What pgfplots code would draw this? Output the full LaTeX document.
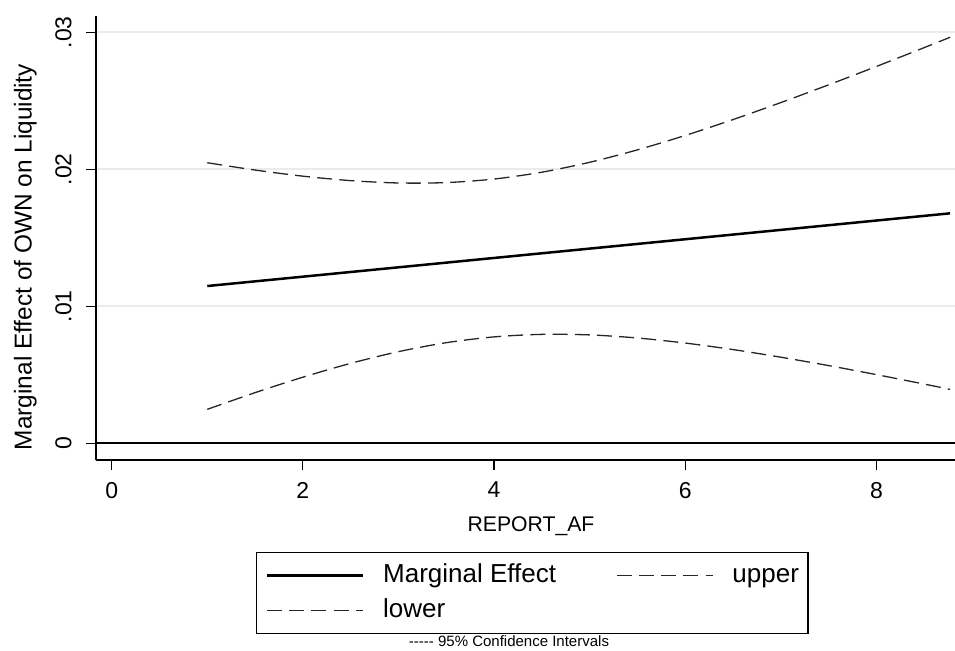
\documentclass[border=0pt]{standalone}
\usepackage{fontspec}
\setmainfont{Liberation Sans}
\usepackage{pgfplots}
\pgfplotsset{compat=1.18}
\begin{document}
\begin{tikzpicture}
\useasboundingbox (-48pt,-95pt) rectangle (429.5pt,230pt);
\begin{axis}[
 name=ax, at={(0,0)}, anchor=south west,
 scale only axis, width=429.5pt, height=222pt,
 xmin=-0.164, xmax=8.821, ymin=-0.001219, ymax=0.03119,
 axis x line*=bottom, axis y line*=left,
 axis line style={-, line width=0.6pt, black},
 tick align=outside, major tick length=5pt,
 tick style={line width=0.6pt, black},
 xtick={0,2,4,6,8}, xticklabels={0,2,4,6,8},
 ytick={0,0.01,0.02,0.03}, yticklabels={0,.01,.02,.03},
 scaled y ticks=false, scaled x ticks=false,
 /pgf/number format/assume math mode=true,
 ymajorgrids, major grid style={line width=1pt, color=black!8},
 xticklabel style={font=\fontsize{11.5}{13}\selectfont, inner sep=0pt, anchor=north},
 yticklabel style={font=\fontsize{11.5}{13}\selectfont, inner sep=0pt, rotate=90, anchor=south},
 xticklabel shift=5.85pt, yticklabel shift=7pt,
 xlabel={REPORT\_AF},
 xlabel style={font=\fontsize{10.6}{12}\selectfont, at={(axis description cs:0.5064,-0.1599)}, anchor=base},
 ylabel={Marginal Effect of OWN on Liquidity},
 ylabel style={font=\fontsize{12.2}{14}\selectfont, at={(axis description cs:-0.0749,0.4572)}, anchor=base},
 legend columns=2,
 legend cell align=left,
 legend style={at={(axis description cs:0.1863,-0.2072)}, anchor=north west, draw=black, line width=0.7pt, fill=white,
   inner xsep=4.5pt, inner ysep=5.4pt, font=\fontsize{13}{15}\selectfont,
   nodes={inner sep=0pt, text height=9.5pt, text depth=2.7pt, anchor=base west},
   column sep=9.5pt, row sep=5.3pt, /tikz/every even column/.append style={column sep=30pt}},
 legend image code/.code={\path (0pt,0pt); \draw[#1] (0pt,3.4pt) -- (48pt,3.4pt);},
]
\addplot[black, line width=1pt, forget plot] coordinates {(-0.164,0) (8.821,0)};
\addplot[black, line width=1.25pt] coordinates {(1,0.01148) (8.77,0.016787)};
\addlegendentry{Marginal Effect}
\addplot[black!85, line width=0.65pt, dash pattern=on 7.5pt off 3.6pt, smooth] coordinates {
(1,0.02048) (1.5,0.019946) (2,0.019500) (2.5,0.019173) (3,0.019002) (3.5,0.019031) (4,0.019290) (4.5,0.019790) (5,0.020512) (5.5,0.021421) (6,0.022473) (6.5,0.023633) (7,0.024872) (7.5,0.026169) (8,0.027510) (8.5,0.028884) (8.77,0.029637)};
\addlegendentry{upper}
\addplot[black!85, line width=0.65pt, dash pattern=on 7.5pt off 3.6pt, smooth] coordinates {
(1,0.00248) (1.5,0.003698) (2,0.004826) (2.5,0.005837) (3,0.006690) (3.5,0.007345) (4,0.007768) (4.5,0.007952) (5,0.007912) (5.5,0.007687) (6,0.007317) (6.5,0.006841) (7,0.006284) (7.5,0.005671) (8,0.005012) (8.5,0.004322) (8.77,0.003937)};
\addlegendentry{lower}
\end{axis}
\node[font=\fontsize{7.5}{9}\selectfont, inner sep=0pt] at (206.5pt,-90.5pt) {-{}-{}-{}-{}- 95\% Confidence Intervals};
\end{tikzpicture}
\end{document}
